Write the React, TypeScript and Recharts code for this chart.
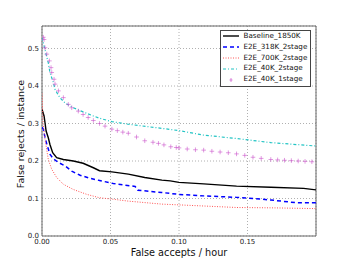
import React from 'react';
import { LineChart, Line, XAxis, YAxis, CartesianGrid, Legend, ReferenceArea } from 'recharts';

const xTicks = [0, 0.05, 0.1, 0.15];
const yTicks = [0, 0.1, 0.2, 0.3, 0.4, 0.5];

// false accepts / hour (x) and false rejects / instance (y)
const baselineFA = [0, 0.0015, 0.0022, 0.003, 0.0046, 0.0058, 0.0078, 0.0107, 0.0156, 0.0229, 0.03, 0.0375, 0.042, 0.051, 0.063, 0.075, 0.0875, 0.0936, 0.1, 0.118, 0.142, 0.167, 0.191, 0.2];
const baselineFR = [0.338, 0.32, 0.302, 0.28, 0.262, 0.244, 0.222, 0.209, 0.204, 0.2, 0.194, 0.182, 0.174, 0.171, 0.165, 0.156, 0.149, 0.147, 0.143, 0.139, 0.133, 0.13, 0.127, 0.123];

const e2e318FA = [0, 0.001, 0.0022, 0.0039, 0.0058, 0.0083, 0.012, 0.0168, 0.0217, 0.0278, 0.035, 0.042, 0.052, 0.06, 0.068, 0.07, 0.0875, 0.1, 0.118, 0.142, 0.155, 0.167, 0.185, 0.2];
const e2e318FR = [0.29, 0.285, 0.262, 0.24, 0.218, 0.206, 0.196, 0.187, 0.173, 0.162, 0.154, 0.148, 0.14, 0.136, 0.132, 0.122, 0.116, 0.111, 0.107, 0.103, 0.1, 0.096, 0.089, 0.089];

const e2e700FA = [0, 0.0008, 0.0022, 0.0034, 0.0046, 0.0071, 0.0107, 0.0156, 0.0229, 0.0327, 0.042, 0.052, 0.063, 0.0875, 0.1, 0.118, 0.142, 0.17, 0.2];
const e2e700FR = [0.38, 0.3, 0.258, 0.231, 0.204, 0.178, 0.156, 0.138, 0.124, 0.111, 0.102, 0.098, 0.093, 0.085, 0.083, 0.08, 0.076, 0.075, 0.073];

const e2e40FA = [0, 0.0015, 0.003, 0.0046, 0.0058, 0.0083, 0.0095, 0.013, 0.0168, 0.0229, 0.03, 0.0375, 0.042, 0.051, 0.063, 0.0875, 0.1, 0.118, 0.142, 0.167, 0.2];
const e2e40FR = [0.529, 0.507, 0.484, 0.462, 0.436, 0.409, 0.391, 0.369, 0.355, 0.342, 0.331, 0.32, 0.314, 0.305, 0.298, 0.287, 0.281, 0.269, 0.26, 0.249, 0.24];

const e2e40oneFA = [0.001, 0.0015, 0.0022, 0.0035, 0.0054, 0.0066, 0.0071, 0.0088, 0.0095, 0.012, 0.0156, 0.0192, 0.0217, 0.0265, 0.03, 0.0337, 0.0375, 0.042, 0.046, 0.051, 0.055, 0.059, 0.063, 0.069, 0.075, 0.081, 0.085, 0.089, 0.094, 0.098, 0.1, 0.106, 0.112, 0.118, 0.124, 0.13, 0.136, 0.142, 0.148, 0.154, 0.16, 0.167, 0.172, 0.177, 0.182, 0.187, 0.192, 0.197];
const e2e40oneFR = [0.53, 0.524, 0.502, 0.485, 0.467, 0.449, 0.436, 0.418, 0.405, 0.387, 0.369, 0.351, 0.342, 0.333, 0.324, 0.316, 0.308, 0.3, 0.293, 0.285, 0.281, 0.277, 0.274, 0.264, 0.254, 0.25, 0.247, 0.243, 0.238, 0.236, 0.235, 0.232, 0.23, 0.229, 0.226, 0.224, 0.222, 0.219, 0.215, 0.21, 0.207, 0.204, 0.203, 0.202, 0.201, 0.2, 0.199, 0.198];

const toPoints = (fa: number[], fr: number[]) => fa.map((x, i) => ({ fa: x, fr: fr[i] }));

const series = [
  { name: 'Baseline_1850K', data: toPoints(baselineFA, baselineFR), color: '#000000', width: 1.4, dash: undefined as string | undefined, marker: false },
  { name: 'E2E_318K_2stage', data: toPoints(e2e318FA, e2e318FR), color: '#0000ff', width: 1.5, dash: '4 3', marker: false },
  { name: 'E2E_700K_2stage', data: toPoints(e2e700FA, e2e700FR), color: '#ff5555', width: 1, dash: '1 1.5', marker: false },
  { name: 'E2E_40K_2stage', data: toPoints(e2e40FA, e2e40FR), color: '#22c4c4', width: 1.2, dash: '3 2 1 2', marker: false },
  { name: 'E2E_40K_1stage', data: toPoints(e2e40oneFA, e2e40oneFR), color: '#cc55cc', width: 1, dash: undefined, marker: true },
];

const PlusDot = (props: any) => {
  const { cx, cy, index } = props;
  if (cx == null || cy == null) return null;
  return (
    <path
      key={`plus-${index}`}
      d={`M${cx - 2.3},${cy}H${cx + 2.3}M${cx},${cy - 2.3}V${cy + 2.3}`}
      stroke="#cc55cc"
      strokeOpacity={0.6}
      strokeWidth={1}
      fill="none"
    />
  );
};

const renderLegend = () => (
  <div
    style={{
      width: 91,
      boxSizing: 'border-box',
      border: '1px solid #444',
      background: '#fff',
      padding: '0 2px 1px 1.5px',
      fontFamily: 'DejaVu Sans',
      fontSize: 7.2,
      lineHeight: '10.8px',
      color: '#111',
    }}
  >
    {series.map((s) => (
      <div key={s.name} style={{ display: 'flex', alignItems: 'center', whiteSpace: 'nowrap' }}>
        <svg width={16} height={8} style={{ marginRight: 5, flex: 'none' }}>
          {s.marker ? (
            <path d="M8,2V6M6.5,4H9.5" stroke={s.color} strokeOpacity={0.7} strokeWidth={1} />
          ) : (
            <line x1={0} y1={4} x2={16} y2={4} stroke={s.color} strokeWidth={s.width} strokeDasharray={s.dash} />
          )}
        </svg>
        <span>{s.name}</span>
      </div>
    ))}
  </div>
);

const App: React.FC = () => {
  return (
    <div style={{ position: 'absolute', left: 0, top: 0, fontFamily: 'DejaVu Sans', background: '#fff' }}>
      <LineChart width={350} height={263} margin={{ top: 26, right: 34, bottom: 0, left: 0 }}>
        <CartesianGrid stroke="#b0b0b0" strokeDasharray="1 2" />
        <XAxis
          type="number"
          dataKey="fa"
          domain={[0, 0.2]}
          ticks={xTicks}
          allowDataOverflow
          height={27}
          tickSize={0}
          tickMargin={3}
          axisLine={false}
          tick={{ fontSize: 7, fill: '#222' }}
          tickFormatter={(v: number) => v.toFixed(2)}
          label={{
            content: () => (
              <text x={179} y={256} textAnchor="middle" fontSize={9.7} fill="#111">
                False accepts / hour
              </text>
            ),
          }}
        />
        <YAxis
          type="number"
          dataKey="fr"
          domain={[0, 0.56]}
          ticks={yTicks}
          allowDataOverflow
          width={42}
          tickSize={0}
          tickMargin={3}
          axisLine={false}
          tick={{ fontSize: 7, fill: '#222' }}
          tickFormatter={(v: number) => v.toFixed(1)}
          label={{
            content: () => (
              <text x={24} y={134} textAnchor="middle" fontSize={9.5} fill="#111" transform="rotate(-90, 24, 134)">
                False rejects / instance
              </text>
            ),
          }}
        />
        <ReferenceArea x1={0} x2={0.2} y1={0} y2={0.56} fill="none" stroke="#666" strokeWidth={1} ifOverflow="visible" />
        {series.map((s) => (
          <Line
            key={s.name}
            name={s.name}
            data={s.data}
            dataKey="fr"
            type="linear"
            stroke={s.marker ? 'none' : s.color}
            strokeWidth={s.width}
            strokeDasharray={s.dash}
            dot={s.marker ? PlusDot : false}
            activeDot={false}
            isAnimationActive={false}
          />
        ))}
        <Legend
          layout="vertical"
          align="center"
          verticalAlign="middle"
          content={renderLegend}
          wrapperStyle={{ left: 220, top: 30, width: 'auto', height: 'auto' }}
        />
      </LineChart>
    </div>
  );
};

export default App;
